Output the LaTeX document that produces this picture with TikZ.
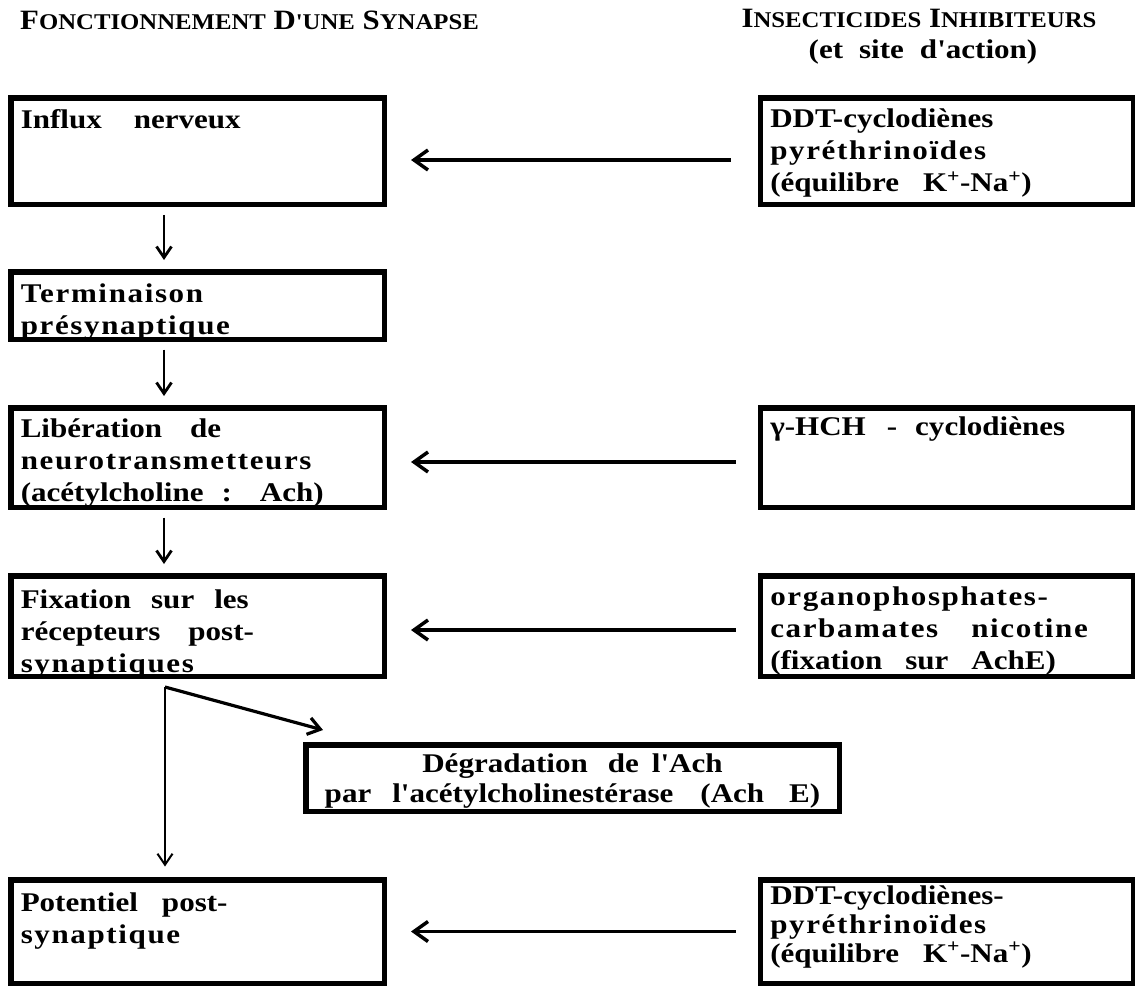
\documentclass[tikz,border=0pt]{standalone}
\usepackage{fontspec}
\setmainfont{Liberation Serif}
\newfontfamily\titlefont{Liberation Serif}[FakeStretch=1.1]
\newfontfamily\boxfont{Liberation Serif}[FakeStretch=1.15]
\newfontfamily\spacedfont{Liberation Serif}[FakeStretch=1.15,LetterSpace=6]
\newcommand{\minicap}[1]{{\fontsize{22.5pt}{24pt}\selectfont #1}}
\usetikzlibrary{arrows.meta}

\begin{document}
\begin{tikzpicture}[x=1pt, y=-1pt]
                \tikzstyle{panel} = [draw, line width=5.5pt, inner xsep=10pt, inner ysep=0pt, text width=353.5pt, align=left, font=\boxfont\bfseries\fontsize{27pt}{32pt}\selectfont]
                \tikzstyle{heading} = [inner sep=0pt, font=\titlefont\bfseries\fontsize{28pt}{30pt}\selectfont]
                \tikzstyle{flow} = [line width=2.8pt, -{Straight Barb[length=11pt, width=15pt]}, shorten <=7.5pt, shorten >=9pt]
                \tikzstyle{inhibit} = [line width=3.5pt, -{Straight Barb[length=14pt, width=20pt]}, shorten <=22pt, shorten >=24pt]
                \useasboundingbox[fill=white] (0,0) rectangle (1135,987);
                % titres
                \node[heading, anchor=base west] (synapse) at (20,30) {F\minicap{ONCTIONNEMENT} D\minicap{'UNE} S\minicap{YNAPSE}};
                \node[heading, anchor=base] (insect) at (919,28) {I\minicap{NSECTICIDES} I\minicap{NHIBITEURS}};
                \node[heading, anchor=base, font=\boxfont\bfseries\fontsize{27pt}{30pt}\selectfont] (site) at (923,59) {(et\hspace{16pt}site\hspace{16pt}d'action)};
                % colonne gauche
                \node[panel, text height=30.25pt, text depth=76.25pt] (influx) at (197.5,151.5) {Influx\hspace{32pt}nerveux};
                \node[panel, text height=30.25pt, text depth=37.25pt] (terminaison) at (197.5,305.5) {{\spacedfont Terminaison}\\{\spacedfont présynaptique}};
                \node[panel, text height=29.25pt, text depth=70.25pt] (liberation) at (197.5,457.5) {Libération\hspace{28pt}de\\{\spacedfont neurotransmetteurs}\\(acétylcholine\hspace{18pt}:\hspace{28pt}Ach)};
                \node[panel, text height=32.25pt, text depth=68.25pt] (fixation) at (197.5,626) {Fixation\hspace{20pt}sur\hspace{20pt}les\\récepteurs\hspace{28pt}post-\\{\spacedfont synaptiques}};
                \node[panel, text height=31.25pt, text depth=72.25pt] (potentiel) at (197.5,931.5) {Potentiel\hspace{24pt}post-\\{\spacedfont synaptique}};
                % colonne droite
                \node[panel, text height=29.25pt, text depth=77.25pt] (ddt1) at (947,151.5) {DDT-cyclodiènes\\{\spacedfont pyréthrinoïdes}\\(équilibre\hspace{24pt}K\textsuperscript{+}-Na\textsuperscript{+})};
                \node[panel, text height=27.25pt, text depth=72.25pt] (hch) at (947,457.5) {γ-HCH\hspace{21pt}-\hspace{18pt}cyclodiènes};
                \node[panel, text height=29.25pt, text depth=71.25pt] (organo) at (947,626) {{\spacedfont organophosphates-}\\{\spacedfont carbamates\hspace{33pt}nicotine}\\(fixation\hspace{23pt}sur\hspace{23pt}AchE)};
                \node[panel, text height=24.25pt, text depth=79.25pt, font=\boxfont\bfseries\fontsize{27pt}{29pt}\selectfont] (ddt2) at (947,931.5) {DDT-cyclodiènes-\\{\spacedfont pyréthrinoïdes}\\(équilibre\hspace{24pt}K\textsuperscript{+}-Na\textsuperscript{+})};
                \node[panel, text width=513.5pt, align=center, text height=27.25pt, text depth=39.25pt, font=\boxfont\bfseries\fontsize{27pt}{30pt}\selectfont] (degrad) at (572.5,778) {Dégradation\hspace{20pt}de\hspace{13pt}l'Ach\\par\hspace{21pt}l'acétylcholinestérase\hspace{27pt}(Ach\hspace{25pt}E)};
                % fleches
                \coordinate (col) at (164,0);
                \coordinate (fork) at (165,687);
                \draw[flow] (influx.south -| col) -- (terminaison.north -| col);
                \draw[flow] (terminaison.south -| col) -- (liberation.north -| col);
                \draw[flow] (liberation.south -| col) -- (fixation.north -| col);
                \draw[flow, line width=2pt, shorten <=0pt, shorten >=10.5pt] (fork) -- (fork |- potentiel.north);
                \draw[flow, line width=3.2pt, -{Straight Barb[length=12pt, width=17pt]}, shorten <=0pt, shorten >=0pt] (fork) -- ([shift={(20pt,12pt)}]degrad.north west);
                \draw[inhibit, shorten <=27pt] ([yshift=-8.5pt]ddt1.west) -- ([yshift=-8.5pt]influx.east);
                \draw[inhibit] ([yshift=-4.5pt]hch.west) -- ([yshift=-4.5pt]liberation.east);
                \draw[inhibit] ([yshift=-4pt]organo.west) -- ([yshift=-4pt]fixation.east);
                \draw[inhibit] (ddt2.west) -- (potentiel.east);
            \end{tikzpicture}
\end{document}
